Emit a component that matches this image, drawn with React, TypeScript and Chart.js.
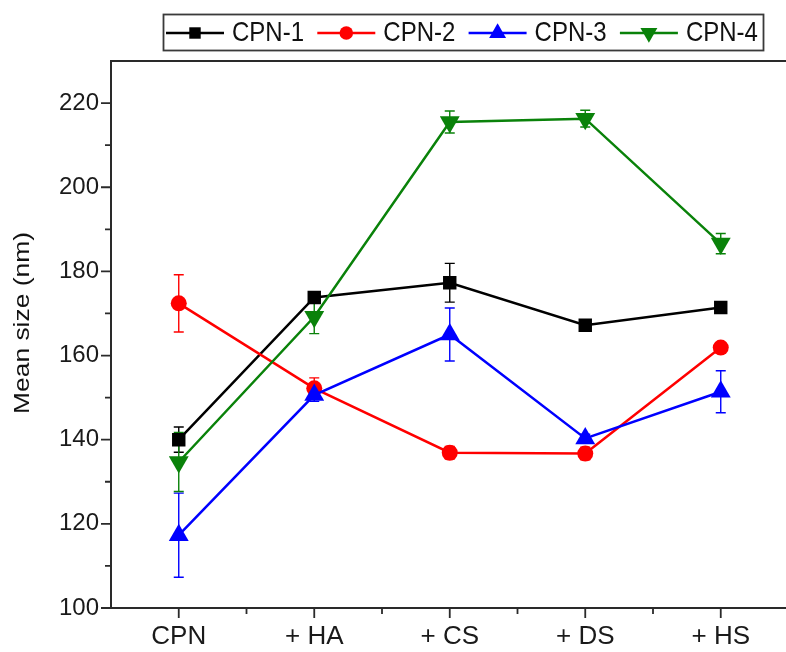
import React, { useEffect, useRef } from 'react';
import { Chart, registerables } from 'chart.js';

Chart.register(...registerables);

// ---------- data ----------
const categories = ['CPN', '+ HA', '+ CS', '+ DS', '+ HS'];
const seriesNames = ['CPN-1', 'CPN-2', 'CPN-3', 'CPN-4'];
const cpn1 = [140.0, 173.8, 177.3, 167.2, 171.4];
const cpn2 = [172.4, 152.2, 136.9, 136.7, 161.9];
const cpn3 = [117.3, 150.6, 165.0, 140.3, 151.4];
const cpn4 = [134.7, 169.2, 215.5, 216.3, 186.6];
const cpn1Err = [3.0, 1.0, 4.6, 1.0, 1.0];
const cpn2Err = [6.8, 2.5, 1.5, 1.5, 1.0];
const cpn3Err = [10.0, 1.5, 6.3, 1.0, 5.0];
const cpn4Err = [7.0, 4.0, 2.6, 2.0, 2.4];
const yMajorTicks = [100, 120, 140, 160, 180, 200, 220];
const yMinorTicks = [110, 130, 150, 170, 190, 210];
const yMin = 100;
const yMax = 230;
const yTitle = 'Mean size (nm)';

// ---------- styles ----------
const FONT = 'Liberation Sans, Arial, Helvetica, sans-serif';
const seriesStyles = [
  { color: '#000000', pointStyle: 'rect', radius: 9.5, rotation: 0 },
  { color: '#ff0000', pointStyle: 'circle', radius: 8, rotation: 0 },
  { color: '#0000ff', pointStyle: 'triangle', radius: 11.5, rotation: 0 },
  { color: '#0a820a', pointStyle: 'triangle', radius: 11.5, rotation: 180 },
];
const seriesValues = [cpn1, cpn2, cpn3, cpn4];
const seriesErrors = [cpn1Err, cpn2Err, cpn3Err, cpn4Err];

function drawMarker(ctx: CanvasRenderingContext2D, style: string, x: number, y: number, r: number, rotation: number, color: string) {
  ctx.save();
  ctx.fillStyle = color;
  ctx.beginPath();
  if (style === 'rect') {
    const s = Math.SQRT1_2 * r;
    ctx.rect(x - s, y - s, 2 * s, 2 * s);
  } else if (style === 'circle') {
    ctx.arc(x, y, r, 0, Math.PI * 2);
  } else {
    let rad = (rotation * Math.PI) / 180;
    for (let k = 0; k < 3; k++) {
      const px = x + Math.sin(rad) * r;
      const py = y - Math.cos(rad) * r;
      if (k === 0) ctx.moveTo(px, py); else ctx.lineTo(px, py);
      rad += (2 * Math.PI) / 3;
    }
    ctx.closePath();
  }
  ctx.fill();
  ctx.restore();
}

const errorBarPlugin = {
  id: 'errorBars',
  beforeDatasetsDraw(chart: any) {
    const { ctx } = chart;
    const yScale = chart.scales.y;
    chart.data.datasets.forEach((ds: any, i: number) => {
      const meta = chart.getDatasetMeta(i);
      meta.data.forEach((pt: any, j: number) => {
        const v = ds.data[j];
        const e = ds.errors[j];
        const yTop = yScale.getPixelForValue(v + e);
        const yBot = yScale.getPixelForValue(v - e);
        ctx.save();
        ctx.strokeStyle = ds.borderColor;
        ctx.lineWidth = 1.4;
        ctx.beginPath();
        ctx.moveTo(pt.x, yTop);
        ctx.lineTo(pt.x, yBot);
        ctx.moveTo(pt.x - 5, yTop);
        ctx.lineTo(pt.x + 5, yTop);
        ctx.moveTo(pt.x - 5, yBot);
        ctx.lineTo(pt.x + 5, yBot);
        ctx.stroke();
        ctx.restore();
      });
    });
  },
};

const framePlugin = {
  id: 'frame',
  afterDraw(chart: any) {
    const { ctx, chartArea } = chart;
    const { left, right, top, bottom } = chartArea;
    const xs = chart.scales.x;
    const ys = chart.scales.y;
    ctx.save();
    ctx.strokeStyle = '#2a2a2a';
    ctx.lineWidth = 2;
    ctx.strokeRect(left, top, right - left, bottom - top);
    ctx.lineWidth = 1.8;
    ctx.beginPath();
    yMajorTicks.forEach((v) => {
      const p = ys.getPixelForValue(v);
      ctx.moveTo(left - 10, p);
      ctx.lineTo(left, p);
    });
    yMinorTicks.forEach((v) => {
      const p = ys.getPixelForValue(v);
      ctx.moveTo(left - 6, p);
      ctx.lineTo(left, p);
    });
    categories.forEach((_, i) => {
      const p = xs.getPixelForValue(i);
      ctx.moveTo(p, bottom);
      ctx.lineTo(p, bottom + 10);
      if (i < categories.length - 1) {
        const m = (p + xs.getPixelForValue(i + 1)) / 2;
        ctx.moveTo(m, bottom);
        ctx.lineTo(m, bottom + 6);
      }
    });
    ctx.stroke();

    // y axis title (slightly stretched along its length, as in the source figure)
    ctx.translate(23, 323);
    ctx.rotate(-Math.PI / 2);
    ctx.scale(1.2, 1);
    ctx.font = `22px ${FONT}`;
    ctx.fillStyle = '#111';
    ctx.textAlign = 'center';
    ctx.textBaseline = 'middle';
    ctx.fillText(yTitle, 0, 0);
    ctx.restore();
  },
};

const legendPlugin = {
  id: 'customLegend',
  afterDraw(chart: any) {
    const { ctx } = chart;
    ctx.save();
    ctx.strokeStyle = '#3a3a3a';
    ctx.lineWidth = 1.8;
    ctx.strokeRect(163.5, 14.5, 600, 36);
    seriesNames.forEach((name, i) => {
      const st = seriesStyles[i];
      const x0 = 166 + i * 151.3;
      const cy = 33;
      ctx.strokeStyle = st.color;
      ctx.lineWidth = 2.5;
      ctx.beginPath();
      ctx.moveTo(x0, cy);
      ctx.lineTo(x0 + 58, cy);
      ctx.stroke();
      drawMarker(ctx, st.pointStyle, x0 + 29, cy, st.radius * 0.85, st.rotation, st.color);
      ctx.save();
      ctx.translate(x0 + 66, cy + 1);
      ctx.scale(1, 1.12);
      ctx.font = `24px ${FONT}`;
      ctx.textBaseline = 'middle';
      ctx.fillStyle = '#111';
      ctx.fillText(name, 0, 0);
      ctx.restore();
    });
    ctx.restore();
  },
};

export default function App() {
  const ref = useRef<HTMLCanvasElement>(null);
  useEffect(() => {
    const canvas = ref.current!;
    const chart = new Chart(canvas, {
      type: 'line',
      data: {
        labels: categories,
        datasets: seriesNames.map((name, i) => ({
          label: name,
          data: seriesValues[i],
          errors: seriesErrors[i],
          borderColor: seriesStyles[i].color,
          backgroundColor: seriesStyles[i].color,
          pointBackgroundColor: seriesStyles[i].color,
          pointBorderColor: seriesStyles[i].color,
          pointStyle: seriesStyles[i].pointStyle,
          pointRadius: seriesStyles[i].radius,
          pointRotation: seriesStyles[i].rotation,
          pointBorderWidth: 0,
          borderWidth: 2.5,
          tension: 0,
          fill: false,
          order: seriesNames.length - 1 - i,
        })) as any,
      },
      options: {
        animation: false,
        responsive: false,
        devicePixelRatio: 1,
        layout: { padding: { top: 61, left: 0, right: 6, bottom: 0 } },
        plugins: {
          legend: { display: false },
          tooltip: { enabled: false },
        },
        scales: {
          x: {
            type: 'category',
            offset: true,
            grid: { display: false, drawTicks: false, offset: false },
            border: { display: false },
            ticks: {
              font: { family: FONT, size: 26 },
              color: '#1a1a1a',
              padding: 13,
              maxRotation: 0,
            },
            afterFit(scale: any) {
              scale.height = 44;
            },
          },
          y: {
            type: 'linear',
            min: yMin,
            max: yMax,
            grid: { display: false, drawTicks: false },
            border: { display: false },
            ticks: {
              font: { family: FONT, size: 24 },
              color: '#1a1a1a',
              padding: 12,
            },
            afterBuildTicks(scale: any) {
              scale.ticks = yMajorTicks.map((v) => ({ value: v }));
            },
            afterFit(scale: any) {
              scale.width = 111;
            },
            title: { display: false, text: yTitle },
          },
        },
      } as any,
      plugins: [errorBarPlugin, framePlugin, legendPlugin],
    });
    return () => chart.destroy();
  }, []);
  return (
    <div
      style={{
        position: 'fixed',
        left: 0,
        top: 0,
        width: 786,
        height: 652,
        overflow: 'hidden',
        background: '#fff',
      }}
    >
      <canvas ref={ref} width={800} height={652} style={{ display: 'block', width: 800, height: 652 }} />
    </div>
  );
}
